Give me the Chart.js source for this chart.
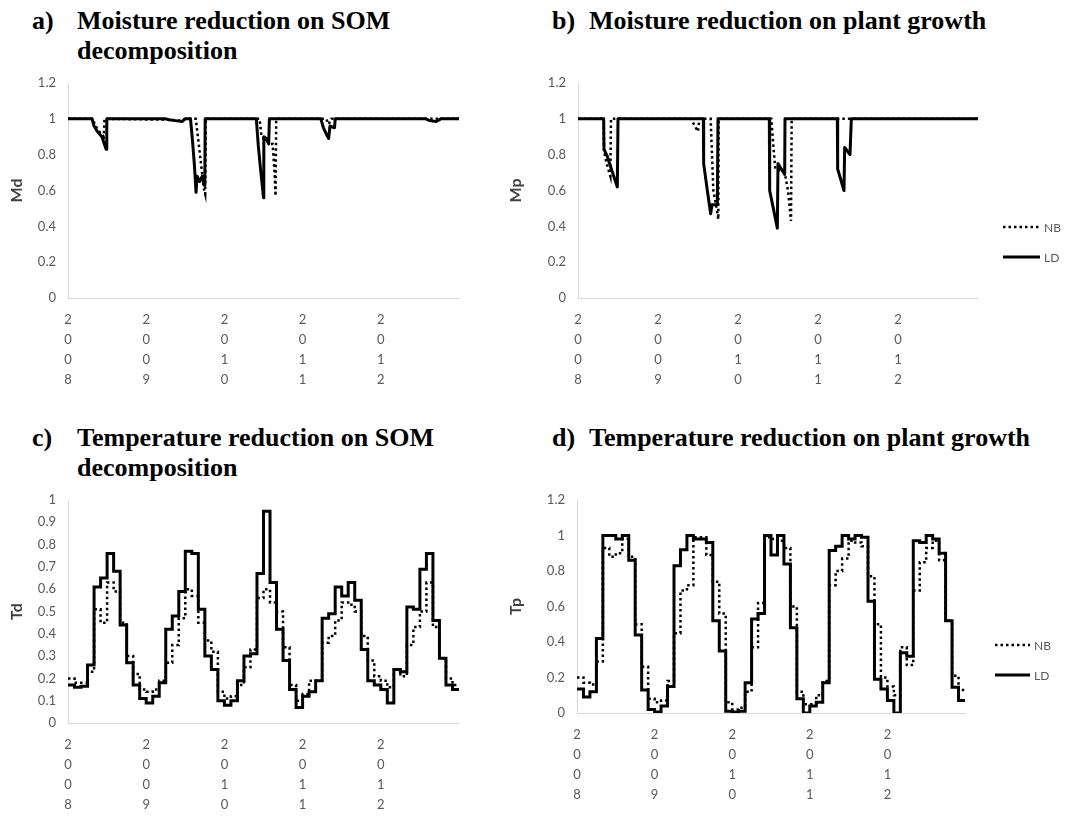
<!DOCTYPE html>
<html>
<head>
<meta charset="utf-8">
<script src="https://cdn.jsdelivr.net/npm/chart.js@4.4.1/dist/chart.umd.min.js"></script>
<style>
	body { margin: 0; background: #fff; }
	#page { position: relative; width: 1079px; height: 818px; overflow: hidden; }
	canvas { position: absolute; }
	.tag, .ttl { position: absolute; font-family: 'Liberation Serif', 'Times New Roman', serif; font-weight: bold; font-size: 26px; line-height: 30px; color: #000; white-space: nowrap; }
</style>
</head>
<body>
<div id="page">
	<div class="tag" style="left:32px;top:6px">a)</div>
	<div class="ttl" style="left:77px;top:6px">Moisture reduction on SOM<br>decomposition</div>
	<div class="tag" style="left:552px;top:6px">b)</div>
	<div class="ttl" style="left:589px;top:6px">Moisture reduction on plant growth</div>
	<div class="tag" style="left:32px;top:423px">c)</div>
	<div class="ttl" style="left:77px;top:423px">Temperature reduction on SOM<br>decomposition</div>
	<div class="tag" style="left:552px;top:423px">d)</div>
	<div class="ttl" style="left:589px;top:423px">Temperature reduction on plant growth</div>

	<canvas id="chartA" width="475" height="345" style="left:0px;top:60px"></canvas>
	<canvas id="chartB" width="584" height="345" style="left:495px;top:60px"></canvas>
	<canvas id="chartC" width="475" height="340" style="left:0px;top:478px"></canvas>
	<canvas id="chartD" width="584" height="340" style="left:495px;top:478px"></canvas>
</div>
<script>
// x axis runs in months from Jan 2008 (0) to end of 2012 (60)
var yearStarts = [0, 12, 24, 36, 48];
var yearLabels = ['2008', '2009', '2010', '2011', '2012'];

// a) moisture reduction on SOM decomposition (Md), daily curve read as break points
var mdLdX = [0, 3.7, 4.0, 4.5, 5.2, 5.85, 5.95, 14.9, 15.5, 16.5, 17.5, 18.0, 18.8, 19.1, 19.4, 19.65, 19.8, 20.2, 20.6, 20.9, 21.0, 21.05, 28.9, 29.2, 29.6, 30.0, 30.05, 30.4, 30.8, 30.9, 38.8, 39.2, 39.7, 40.0, 40.2, 40.9, 41.0, 54.9, 55.5, 56.5, 57.2, 60];
var mdLdY = [1, 1, 0.96, 0.93, 0.90, 0.83, 1, 1, 0.995, 0.99, 0.985, 1, 1, 0.88, 0.74, 0.59, 0.68, 0.65, 0.68, 0.63, 0.66, 1, 1, 0.85, 0.70, 0.56, 0.90, 0.89, 0.86, 1, 1, 0.95, 0.91, 0.89, 0.96, 0.95, 1, 1, 0.99, 0.985, 1, 1];
var mdNbX = [0, 3.8, 4.2, 5.0, 5.5, 5.6, 15.5, 17.0, 18.0, 19.6, 20.0, 20.5, 20.9, 21.05, 21.15, 29.4, 29.7, 30.5, 31.0, 31.4, 31.7, 31.85, 31.95, 39.6, 40.0, 40.4, 60];
var mdNbY = [1, 1, 0.96, 0.92, 0.90, 1, 0.995, 0.99, 1, 1, 0.88, 0.72, 0.60, 0.58, 1, 1, 0.90, 0.88, 0.86, 0.86, 0.70, 0.57, 1, 1, 0.97, 1, 1];

// b) moisture reduction on plant growth (Mp)
var mpLdX = [0, 3.85, 3.9, 4.4, 5.0, 5.9, 6.0, 18.8, 18.85, 19.4, 19.9, 20.1, 20.9, 21.0, 28.7, 28.75, 29.3, 29.9, 30.0, 30.5, 31.0, 31.05, 38.9, 38.95, 39.9, 40.0, 40.8, 41.0, 60];
var mpLdY = [1, 1, 0.83, 0.79, 0.72, 0.62, 1, 1, 0.75, 0.60, 0.47, 0.52, 0.52, 1, 1, 0.60, 0.50, 0.39, 0.75, 0.72, 0.69, 1, 1, 0.72, 0.60, 0.84, 0.80, 1, 1];
var mpNbX = [0, 3.85, 3.9, 4.3, 4.85, 4.95, 17.0, 17.5, 18.0, 18.2, 19.9, 20.0, 20.3, 20.8, 21.05, 21.1, 29.0, 29.3, 29.6, 30.5, 31.0, 31.5, 31.95, 32.05, 60];
var mpNbY = [1, 1, 0.82, 0.75, 0.68, 1, 1, 0.96, 0.93, 1, 1, 0.90, 0.60, 0.50, 0.44, 1, 1, 0.85, 0.72, 0.71, 0.70, 0.60, 0.43, 1, 1];

// c) temperature reduction on SOM decomposition (Td), monthly values
var tdLd = [0.17, 0.16, 0.165, 0.26, 0.61, 0.65, 0.76, 0.68, 0.44, 0.27, 0.17, 0.11,
	0.09, 0.12, 0.18, 0.42, 0.48, 0.59, 0.77, 0.76, 0.51, 0.30, 0.24, 0.10,
	0.08, 0.10, 0.19, 0.30, 0.31, 0.67, 0.95, 0.63, 0.42, 0.28, 0.15, 0.07,
	0.12, 0.14, 0.19, 0.47, 0.49, 0.61, 0.57, 0.63, 0.55, 0.33, 0.19, 0.17,
	0.15, 0.09, 0.24, 0.23, 0.52, 0.51, 0.69, 0.76, 0.46, 0.29, 0.17, 0.15];
var tdNb = [0.20, 0.18, 0.18, 0.23, 0.51, 0.45, 0.63, 0.59, 0.45, 0.30, 0.22, 0.15,
	0.14, 0.15, 0.19, 0.27, 0.35, 0.47, 0.60, 0.57, 0.45, 0.37, 0.32, 0.14,
	0.11, 0.12, 0.17, 0.25, 0.33, 0.56, 0.60, 0.54, 0.50, 0.34, 0.17, 0.10,
	0.13, 0.19, 0.19, 0.36, 0.39, 0.46, 0.54, 0.53, 0.50, 0.39, 0.28, 0.21,
	0.19, 0.16, 0.24, 0.21, 0.35, 0.43, 0.50, 0.63, 0.43, 0.29, 0.20, 0.17];

// d) temperature reduction on plant growth (Tp), monthly values
var tpLd = [0.135, 0.09, 0.12, 0.42, 1.0, 1.0, 0.98, 1.0, 0.86, 0.44, 0.13, 0.02,
	0.005, 0.04, 0.15, 0.83, 0.92, 1.0, 0.98, 0.98, 0.96, 0.52, 0.35, 0.01,
	0.005, 0.01, 0.17, 0.53, 0.56, 1.0, 0.89, 1.0, 0.84, 0.48, 0.08, 0.0,
	0.04, 0.06, 0.17, 0.915, 0.94, 1.0, 0.98, 1.0, 0.99, 0.63, 0.19, 0.135,
	0.07, 0.0, 0.34, 0.32, 0.97, 0.96, 1.0, 0.98, 0.90, 0.52, 0.145, 0.07];
var tpNb = [0.20, 0.17, 0.16, 0.29, 0.93, 0.88, 0.90, 0.98, 0.88, 0.50, 0.26, 0.08,
	0.06, 0.07, 0.18, 0.45, 0.69, 0.72, 0.99, 0.99, 0.89, 0.74, 0.56, 0.06,
	0.02, 0.03, 0.12, 0.37, 0.62, 0.99, 0.98, 0.97, 0.93, 0.60, 0.12, 0.05,
	0.05, 0.10, 0.18, 0.72, 0.80, 0.87, 0.97, 0.96, 0.94, 0.77, 0.50, 0.20,
	0.15, 0.10, 0.37, 0.27, 0.69, 0.85, 0.93, 0.97, 0.86, 0.52, 0.21, 0.13];

var tickFont = { family: 'Lato, "Open Sans", sans-serif', size: 13, lineHeight: 20 / 13 };
var tickColor = '#595959';
var axisColor = '#d9d9d9';

function pairs(xs, ys) {
	return xs.map(function(x, i) { return { x: x, y: ys[i] }; });
}
// one point per month start, plus the end of the last month
function months(vals) {
	var pts = vals.map(function(v, i) { return { x: i, y: v }; });
	pts.push({ x: vals.length, y: vals[vals.length - 1] });
	return pts;
}

// legend drawn to the right of the plot area
var sideLegend = {
	id: 'sideLegend',
	afterDraw: function(chart, args, opts) {
		if (!opts.show) return;
		var ctx = chart.ctx;
		var area = chart.chartArea;
		chart.data.datasets.forEach(function(ds, i) {
			var x = area.right + opts.dx;
			var y = area.top + opts.dy + i * opts.gap;
			ctx.save();
			ctx.strokeStyle = ds.borderColor;
			ctx.lineWidth = ds.borderWidth;
			ctx.setLineDash(ds.borderDash || []);
			ctx.beginPath();
			ctx.moveTo(x, y);
			ctx.lineTo(x + opts.len, y);
			ctx.stroke();
			ctx.setLineDash([]);
			ctx.fillStyle = tickColor;
			ctx.font = '12px Lato, "Open Sans", sans-serif';
			ctx.textBaseline = 'middle';
			ctx.fillText(ds.label, x + opts.len + 4, y + 1);
			ctx.restore();
		});
	}
};

function makeChart(id, cfg) {
	var datasets = [{
		label: 'NB',
		data: cfg.nb,
		borderColor: '#000',
		borderWidth: 2.5,
		borderDash: [2.5, 3],
		pointRadius: 0,
		stepped: cfg.stepped,
		tension: 0,
		fill: false
	}, {
		label: 'LD',
		data: cfg.ld,
		borderColor: '#000',
		borderWidth: 3,
		pointRadius: 0,
		stepped: cfg.stepped,
		borderJoinStyle: cfg.stepped ? 'miter' : 'round',
		tension: 0,
		fill: false
	}];
	return new Chart(document.getElementById(id), {
		type: 'line',
		data: { datasets: datasets },
		plugins: [sideLegend],
		options: {
			responsive: false,
			animation: false,
			events: [],
			layout: { padding: { top: cfg.padTop, right: cfg.padRight, left: 0, bottom: 0 } },
			plugins: {
				legend: { display: false },
				tooltip: { enabled: false },
				sideLegend: cfg.legend || { show: false }
			},
			scales: {
				x: {
					type: 'linear',
					min: 0,
					max: 60,
					grid: { display: false, drawTicks: false },
					border: { display: true, color: axisColor },
					ticks: {
						color: tickColor,
						font: tickFont,
						padding: 12,
						maxRotation: 0,
						autoSkip: false,
						callback: function(value) {
							var k = yearStarts.indexOf(value);
							return k < 0 ? '' : yearLabels[k].split('');
						}
					},
					afterBuildTicks: function(scale) {
						scale.ticks = yearStarts.map(function(v) { return { value: v }; });
					},
					afterFit: function(scale) { scale.height = cfg.xHeight; }
				},
				y: {
					type: 'linear',
					min: 0,
					max: cfg.yMax,
					grid: { display: false, drawTicks: false },
					border: { display: true, color: axisColor },
					ticks: {
						stepSize: cfg.yStep,
						color: tickColor,
						font: { family: 'Lato, "Open Sans", sans-serif', size: 13 },
						padding: 12,
						autoSkip: false,
						callback: function(value) { return String(Math.round(value * 10) / 10); }
					},
					title: {
						display: true,
						text: cfg.yTitle,
						color: '#404040',
						font: { family: 'Lato, "Open Sans", sans-serif', size: 16, weight: 'bold' },
						padding: { top: cfg.titlePad, bottom: 0 }
					},
					afterFit: function(scale) { scale.width = cfg.yWidth; }
				}
			}
		}
	});
}

makeChart('chartA', {
	ld: pairs(mdLdX, mdLdY), nb: pairs(mdNbX, mdNbY), stepped: false,
	yMax: 1.2, yStep: 0.2, yTitle: 'Md', titlePad: 7,
	padTop: 23, padRight: 16, yWidth: 68, xHeight: 107
});
makeChart('chartB', {
	ld: pairs(mpLdX, mpLdY), nb: pairs(mpNbX, mpNbY), stepped: false,
	yMax: 1.2, yStep: 0.2, yTitle: 'Mp', titlePad: 11,
	padTop: 23, padRight: 101, yWidth: 83, xHeight: 107,
	legend: { show: true, dx: 25, dy: 144, gap: 30, len: 37 }
});
makeChart('chartC', {
	ld: months(tdLd), nb: months(tdNb), stepped: 'before',
	yMax: 1, yStep: 0.1, yTitle: 'Td', titlePad: 7,
	padTop: 22, padRight: 16, yWidth: 68, xHeight: 95
});
makeChart('chartD', {
	ld: months(tpLd), nb: months(tpNb), stepped: 'before',
	yMax: 1.2, yStep: 0.2, yTitle: 'Tp', titlePad: 11,
	padTop: 22, padRight: 114, yWidth: 82, xHeight: 105,
	legend: { show: true, dx: 30, dy: 145, gap: 30, len: 35 }
});
</script>
</body>
</html>
